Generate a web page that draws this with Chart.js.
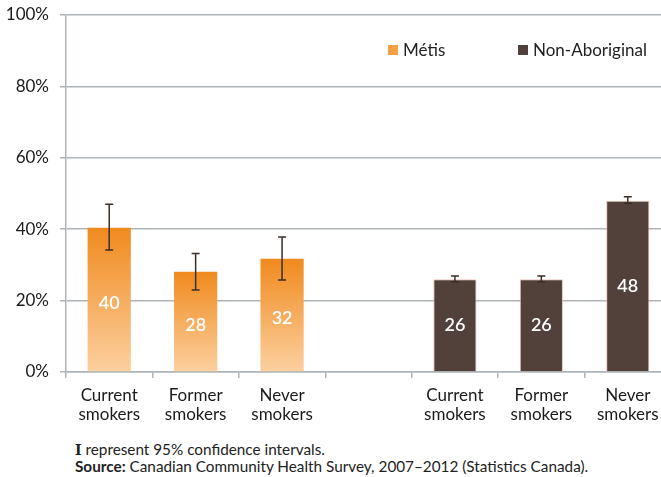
<!DOCTYPE html>
<html>
<head>
<meta charset="utf-8">
<script src="https://cdn.jsdelivr.net/npm/chart.js@4.4.1/dist/chart.umd.min.js"></script>
<style>
  html, body { margin: 0; padding: 0; background: #fff; overflow: hidden; width: 661px; height: 477px; }
  #wrap { position: relative; width: 661px; height: 477px; overflow: hidden; }
  canvas { position: absolute; left: 0; top: 0; }
  .note { position: absolute; left: 75px; font-family: Lato, "Open Sans", sans-serif; font-size: 15.3px; line-height: 18px; color: #222; white-space: nowrap; }
  .serifI { font-family: "DejaVu Serif", "Liberation Serif", serif; font-weight: bold; font-size: 14px; }
</style>
</head>
<body>
<div id="wrap">
  <canvas id="c" width="700" height="430"></canvas>
  <div class="note" style="top:440px;"><span class="serifI">I</span> represent 95% confidence intervals.</div>
  <div class="note" style="top:457px;"><b>Source:</b> Canadian Community Health Survey, 2007–2012 (Statistics Canada).</div>
</div>
<script>
// ---- data ----
const categories = [["Current", "smokers"], ["Former", "smokers"], ["Never", "smokers"], "", ["Current", "smokers"], ["Former", "smokers"], ["Never", "smokers"]];
const seriesNames = ["Métis", "Non-Aboriginal"];
const metisValues = [40.4, 28.1, 31.7, null, null, null, null];
const metisLow    = [34.2, 23.0, 25.8, null, null, null, null];
const metisHigh   = [47.0, 33.2, 37.8, null, null, null, null];
const nonAbValues = [null, null, null, null, 26.0, 26.0, 48.0];
const nonAbLow    = [null, null, null, null, 25.3, 25.3, 47.3];
const nonAbHigh   = [null, null, null, null, 26.9, 26.9, 49.1];
const valueLabels = ["40", "28", "32", "", "26", "26", "48"];
const yTicks = [0, 20, 40, 60, 80, 100];

const FONT = 'Lato, "Open Sans", sans-serif';
const GRID = '#AEB4B8';
const BROWN = '#52413A';

function metisGradient(ctx) {
  const chart = ctx.chart;
  const area = chart.chartArea;
  if (!area || ctx.parsed == null || ctx.parsed.y == null) return '#F4A050';
  const y = chart.scales.y;
  const top = y.getPixelForValue(ctx.parsed.y);
  const bottom = y.getPixelForValue(0);
  const g = chart.ctx.createLinearGradient(0, top, 0, bottom);
  g.addColorStop(0, '#F08A1E');
  g.addColorStop(1, '#FCD0A0');
  return g;
}

const errorBars = {
  id: 'errorBars',
  afterDatasetsDraw(chart) {
    const c = chart.ctx;
    const y = chart.scales.y;
    const sets = [[metisLow, metisHigh], [nonAbLow, nonAbHigh]];
    c.save();
    c.strokeStyle = '#3A2E28';
    c.lineWidth = 1.5;
    sets.forEach((pair, di) => {
      const meta = chart.getDatasetMeta(di);
      meta.data.forEach((bar, i) => {
        if (pair[0][i] == null) return;
        const x = bar.x;
        const y1 = y.getPixelForValue(pair[0][i]);
        const y2 = y.getPixelForValue(pair[1][i]);
        c.beginPath();
        c.moveTo(x, y1); c.lineTo(x, y2);
        c.moveTo(x - 4, y1); c.lineTo(x + 4, y1);
        c.moveTo(x - 4, y2); c.lineTo(x + 4, y2);
        c.stroke();
      });
    });
    c.restore();
  }
};

const barLabels = {
  id: 'barLabels',
  afterDatasetsDraw(chart) {
    const c = chart.ctx;
    const y = chart.scales.y;
    c.save();
    c.fillStyle = '#FFFFFF';
    c.font = '600 18px ' + FONT;
    c.textAlign = 'center';
    c.textBaseline = 'middle';
    [0, 1].forEach(di => {
      const meta = chart.getDatasetMeta(di);
      const vals = chart.data.datasets[di].data;
      meta.data.forEach((bar, i) => {
        if (vals[i] == null) return;
        const mid = (y.getPixelForValue(vals[i]) + y.getPixelForValue(0)) / 2;
        c.fillText(valueLabels[i], bar.x, mid + (di === 0 ? 3 : 0));
      });
    });
    c.restore();
  }
};

const legendPlugin = {
  id: 'customLegend',
  afterDraw(chart) {
    const c = chart.ctx;
    c.save();
    c.font = '17px ' + FONT;
    c.textBaseline = 'middle';
    c.textAlign = 'left';
    const items = [
      { x: 388, color: '#F5A045', text: seriesNames[0] },
      { x: 518, color: BROWN, text: seriesNames[1] }
    ];
    items.forEach(it => {
      c.fillStyle = it.color;
      c.fillRect(it.x, 45, 10, 10);
      c.fillStyle = '#222';
      c.fillText(it.text, it.x + 15, 51);
    });
    c.restore();
  }
};

new Chart(document.getElementById('c'), {
  type: 'bar',
  data: {
    labels: categories,
    datasets: [
      { label: seriesNames[0], data: metisValues, backgroundColor: metisGradient, borderWidth: 0 },
      { label: seriesNames[1], data: nonAbValues, backgroundColor: BROWN, borderColor: 'rgba(235,190,175,0.9)', borderWidth: 1 }
    ]
  },
  options: {
    responsive: false,
    devicePixelRatio: 1,
    animation: false,
    layout: { padding: { top: 15, right: 29, left: 0, bottom: 0 } },
    plugins: { legend: { display: false }, tooltip: { enabled: false } },
    datasets: { bar: { grouped: false, barPercentage: 0.5, categoryPercentage: 1.0 } },
    scales: {
      x: {
        afterFit(scale) { scale.height = 58; scale.paddingLeft = 0; scale.paddingRight = 0; },
        grid: { drawOnChartArea: false, color: GRID, lineWidth: 1.5, tickLength: 6, offset: true },
        border: { color: GRID, width: 1.5 },
        ticks: { color: '#1A1A1A', font: { family: FONT, size: 17, lineHeight: 1.1 }, padding: 8, maxRotation: 0, autoSkip: false }
      },
      y: {
        min: 0, max: 100,
        afterFit(scale) { scale.width = 66; scale.paddingTop = 0; scale.paddingBottom = 0; },
        afterBuildTicks(scale) { scale.ticks = yTicks.map(v => ({ value: v })); },
        grid: { color: GRID, lineWidth: 1.5, tickLength: 6 },
        border: { color: GRID, width: 1.5 },
        ticks: { color: '#1A1A1A', font: { family: FONT, size: 17 }, padding: 11, callback: v => v + '%' }
      }
    }
  },
  plugins: [errorBars, barLabels, legendPlugin]
});
</script>
</body>
</html>
